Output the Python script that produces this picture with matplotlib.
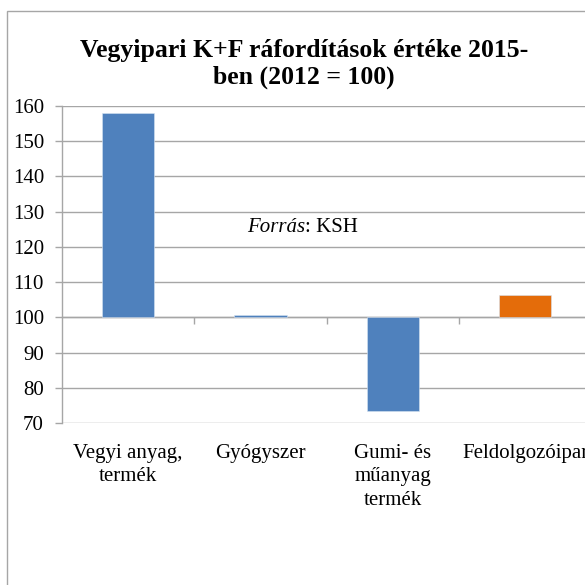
import matplotlib.pyplot as plt
from matplotlib.patches import Rectangle

# data
categories = ['Vegyi anyag,\ntermék', 'Gyógyszer', 'Gumi- és\nműanyag\ntermék', 'Feldolgozóipar']
values = [158.0, 100.8, 73.6, 106.4]
bar_colors = ['#4F81BD', '#4F81BD', '#4F81BD', '#E46C0A']
base = 100
y_ticks = list(range(70, 161, 10))

plt.rcParams['font.family'] = 'serif'
plt.rcParams['font.serif'] = ['Liberation Serif', 'DejaVu Serif']
grey = '#A6A6A6'
fs = 15

fig = plt.figure(figsize=(5.85, 5.85), dpi=100)
# chart frame, runs off the right and bottom edge like the reference
fig.patches.append(Rectangle((7 / 585, -0.1), 1.2, 1.1 - 11 / 585, transform=fig.transFigure,
                             fill=False, edgecolor=grey, linewidth=1.0))

ax = fig.add_axes([62 / 585, 161.7 / 585, 529.3 / 585, 317.6 / 585])
x = range(len(categories))
ax.bar(x, [v - base for v in values], bottom=base, width=0.395, color=bar_colors,
       edgecolor='#D6E3F2', linewidth=0.4, zorder=3)

ax.set_xlim(-0.5, len(categories) - 0.5)
ax.set_ylim(y_ticks[0], y_ticks[-1])
ax.set_yticks(y_ticks)
ax.yaxis.grid(True, color=grey, linewidth=1.0, zorder=0)
for s in ['top', 'right', 'bottom']:
    ax.spines[s].set_visible(False)
ax.spines['left'].set_color(grey)
ax.spines['left'].set_linewidth(1.0)
ax.tick_params(axis='y', length=5, width=1.0, color=grey, labelsize=fs, pad=8)

ax.set_xticks(list(x))
ax.set_xticklabels(categories, fontsize=fs, linespacing=1.3, va='top')
ax.tick_params(axis='x', length=0, pad=15)

# category axis crossing at 100
sec = ax.secondary_xaxis((base - y_ticks[0]) / (y_ticks[-1] - y_ticks[0]))
sec.set_xticks([i + 0.5 for i in range(len(categories) - 1)])
sec.set_xticklabels([])
sec.spines['bottom'].set_color(grey)
sec.spines['bottom'].set_linewidth(1.0)
sec.tick_params(axis='x', direction='out', length=5, width=1.0, color=grey)

t1 = ax.text(0.9, 125.5, 'Forrás', fontsize=fs, style='italic', va='center', ha='left')
ax.annotate(': KSH', xy=(1, 0), xycoords=t1, va='bottom', ha='left', fontsize=fs)

fig.text(304 / 585, 1 - 64 / 585, 'Vegyipari K+F ráfordítások értéke 2015-\nben (2012 = 100)',
         ha='center', va='center', fontsize=18.5, fontweight='bold', linespacing=1.25)

fig.savefig('out.png', dpi=100)
